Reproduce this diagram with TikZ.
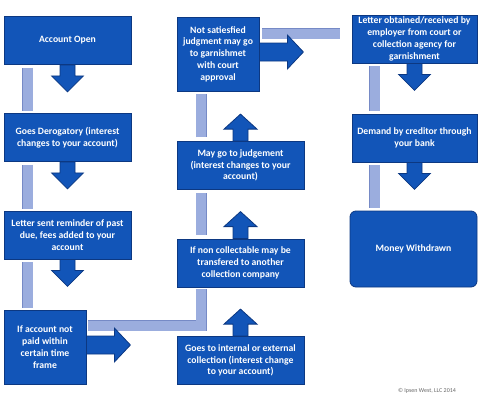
\documentclass[tikz,border=0pt]{standalone}
\usepackage{fontspec}
\setmainfont{Carlito}
\usetikzlibrary{calc,backgrounds}
\definecolor{boxblue}{RGB}{18,85,184}
\definecolor{boxline}{RGB}{12,56,130}
\definecolor{barblue}{RGB}{155,173,222}
\definecolor{barline}{RGB}{118,138,198}
\newcommand{\downarr}[1]{\draw[blk] (#1.south) ++(-7.5,0) -- ++(0,11) -- ++(-8.5,0) -- ++(16,16) -- ++(16,-16) -- ++(-8.5,0) -- ++(0,-11) -- cycle;}
\newcommand{\uparr}[1]{\draw[blk] (#1.north) ++(-7.5,0) -- ++(0,-12) -- ++(-9,0) -- ++(16.5,-15) -- ++(16.5,15) -- ++(-9,0) -- ++(0,12) -- cycle;}
\newcommand{\rightarr}[1]{\draw[blk] ([yshift=2pt]#1.east) ++(0,-9) -- ++(28,0) -- ++(0,-8) -- ++(16,17) -- ++(-16,17) -- ++(0,-8) -- ++(-28,0) -- cycle;}

\begin{document}
\begin{tikzpicture}[x=1pt,y=-1pt,
    box/.style={draw=boxline, fill=boxblue, line width=0.8pt, text=white,
                font=\bfseries\fontsize{9.7}{11.8}\selectfont, align=center,
                inner sep=0pt, minimum width=127pt, minimum height=48pt},
    tall/.style={box, minimum width=82pt, minimum height=74pt},
    blk/.style={draw=boxline, fill=boxblue, line width=0.8pt, line join=miter},
    link/.style={draw=barline, line width=0.6pt, double=barblue, double distance=10pt},
    copy/.style={font=\fontsize{6}{7}\selectfont, text=black!60}]
  \useasboundingbox (0,0) rectangle (480,400);
  \node[box] (open)     at (67.5,40.5) {Account Open};
  \node[box] (derog)    at (67.5,137.5) {Goes Derogatory (interest\\changes to your account)};
  \node[box] (letter)   at (67.5,235) {Letter sent reminder of past\\due, fees added to your\\account};
  \node[tall] (notpaid) at (45,347) {If account not\\paid within\\certain time\\frame};
  \node[box] (internal) at (240.5,360.5) {Goes to internal or external\\collection (interest change\\to your account)};
  \node[box] (noncoll)  at (240.5,263) {If non collectable may be\\transfered to another\\collection company};
  \node[box] (judge)    at (240.5,165.5) {May go to judgement\\(interest changes to your\\account)};
  \node[tall] (notsat)  at (218,54) {Not satiesfied\\judgment may go\\to garnishmet\\with court\\approval};
  \node[box, minimum width=125pt] (garn) at (414.5,39) {Letter obtained/received by\\employer from court or\\collection agency for\\garnishment};
  \node[box, minimum width=125pt] (demand) at (414.5,138) {Demand by creditor through\\your bank};
  \node[box, minimum height=76pt, rounded corners=6pt] (money) at (413.5,249) {Money Withdrawn};
  \node[copy] (cr) at (427,391) {\textcopyright{} Ipsen West, LLC 2014};
  \begin{scope}[on background layer]
    \draw[link, shorten <=3pt, shorten >=2pt] ([xshift=24pt]open.south west) -- ([xshift=24pt]derog.north west);
    \draw[link, shorten <=3pt, shorten >=2pt] ([xshift=24pt]derog.south west) -- ([xshift=24pt]letter.north west);
    \draw[link, shorten <=3pt, shorten >=2pt] ([xshift=24pt]letter.south west) -- ([xshift=24pt]notpaid.north west);
    \draw[link, shorten <=2pt, shorten >=2pt] ($(notpaid.north east)+(0,16)$) -| ([xshift=24.5pt]noncoll.south west);
    \draw[link, shorten <=4pt, shorten >=3pt] ([xshift=24.5pt]noncoll.north west) -- ([xshift=24.5pt]judge.south west);
    \draw[link, shorten <=4pt, shorten >=3pt] ([xshift=24.5pt]judge.north west) -- ([xshift=24.5pt]notsat.south west);
    \draw[link, shorten <=3pt, shorten >=12pt] ($(notsat.north east)+(0,17)$) -- ($(garn.north west)+(0,19)$);
    \draw[link, shorten <=3pt, shorten >=3pt] ([xshift=23pt]garn.south west) -- ([xshift=23pt]demand.north west);
    \draw[link, shorten <=3pt, shorten >=3pt] ([xshift=23pt]demand.south west) -- ([xshift=25pt]money.north west);
    \downarr{open} \downarr{derog} \downarr{letter}
    \rightarr{notpaid}
    \uparr{internal} \uparr{noncoll} \uparr{judge}
    \rightarr{notsat}
    \downarr{garn} \downarr{demand}
  \end{scope}
\end{tikzpicture}
\end{document}
